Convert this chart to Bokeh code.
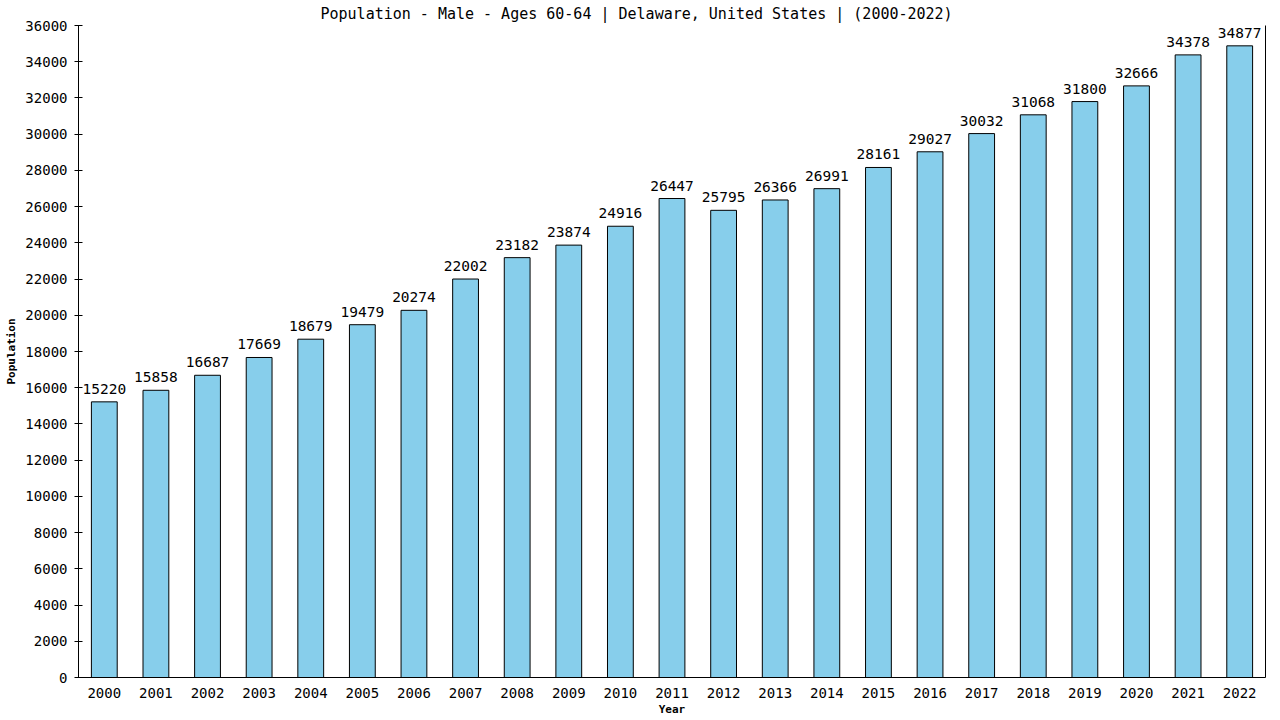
from bokeh.plotting import figure
from bokeh.models import ColumnDataSource, FixedTicker, Range1d, LinearAxis
from bokeh.core.properties import value
from bokeh.embed import file_html
from bokeh.resources import INLINE

years = [str(y) for y in range(2000, 2023)]
values = [15220, 15858, 16687, 17669, 18679, 19479, 20274, 22002, 23182, 23874,
          24916, 26447, 25795, 26366, 26991, 28161, 29027, 30032, 31068, 31800,
          32666, 34378, 34877]
y_ticks = list(range(0, 36001, 2000))
title_text = "Population - Male - Ages 60-64 | Delaware, United States |  (2000-2022)"

FONT = "DejaVu Sans Mono"

src = ColumnDataSource(dict(year=years, value=values, label=[str(v) for v in values]))

p = figure(x_range=years, y_range=Range1d(0, 36000), width=1280, height=720,
           output_backend="svg", toolbar_location=None,
           min_border_left=78, min_border_right=15, min_border_top=25, min_border_bottom=43)
p.title.text = title_text
p.title.align = "left"
p.title.offset = 242
p.title.text_font = FONT
p.title.text_font_size = "15px"
p.title.text_font_style = "normal"
p.title.text_color = "black"
p.title.standoff = 5
p.x_range.range_padding = 0

p.vbar(x="year", top="value", width=0.5, source=src,
       fill_color="#87CEEB", line_color="black", line_width=1)
p.text(x="year", y="value", text="label", source=src,
       text_font=value(FONT), text_font_size="14.5px", text_align="center",
       text_baseline="bottom", y_offset=-8, text_color="black")

p.grid.visible = False
p.outline_line_color = None

p.yaxis.ticker = FixedTicker(ticks=y_ticks)
p.yaxis.axis_label = "Population"
p.xaxis.axis_label = "Year"
for ax in (p.xaxis, p.yaxis):
    ax.axis_label_text_font = FONT
    ax.axis_label_text_font_size = "11px"
    ax.axis_label_text_font_style = "bold"
    ax.axis_label_text_color = "black"
    ax.major_label_text_font = FONT
    ax.major_label_text_font_size = "14px"
    ax.major_label_text_color = "black"
    ax.axis_line_color = "black"
    ax.minor_tick_line_color = None
p.yaxis.major_tick_in = 4
p.yaxis.major_tick_out = 4
p.yaxis.major_label_standoff = 7
p.yaxis.axis_label_standoff = 4
p.xaxis.major_tick_line_color = None
p.xaxis.major_label_standoff = 4
p.xaxis.axis_label_standoff = 2
p.yaxis[0].formatter.use_scientific = False

right = LinearAxis(ticker=FixedTicker(ticks=[]), major_tick_line_color=None,
                   minor_tick_line_color=None, axis_line_color="black")
p.add_layout(right, "right")

open("out.html", "w").write(file_html(p, INLINE))
